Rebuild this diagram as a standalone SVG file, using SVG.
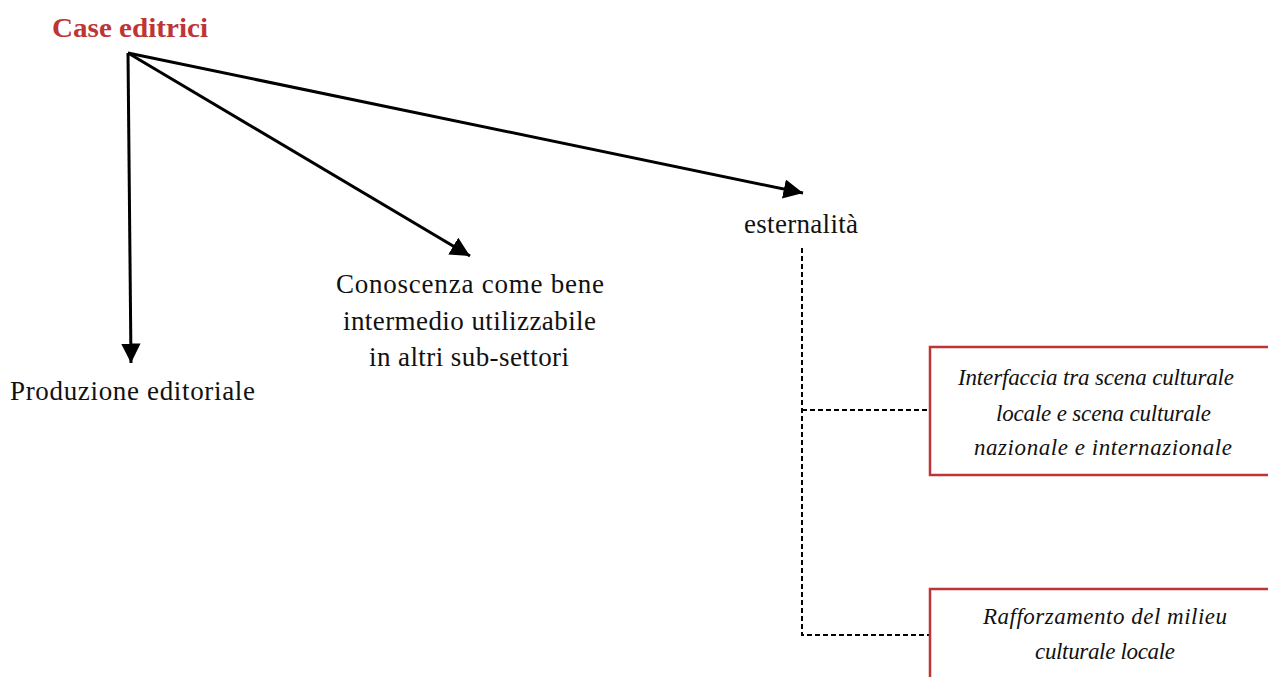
<svg xmlns="http://www.w3.org/2000/svg" width="1268" height="677" viewBox="0 0 1268 677">
  <style>
    text { font-family: "Liberation Serif", "DejaVu Serif", serif; fill: #111; }
    .lbl { font-size: 27px; text-anchor: middle; }
    .title { font-size: 27px; font-weight: bold; fill: #bd3535; }
    .it { font-size: 23px; font-style: italic; text-anchor: middle; }
    .arrow { stroke: #000; stroke-width: 3; fill: none; }
    .dash { stroke: #000; stroke-width: 2; stroke-dasharray: 5 3; fill: none; }
    .box { fill: #fff; stroke: #bd3535; stroke-width: 2.5; }
  </style>
  <defs>
    <marker id="head" viewBox="0 0 10 10" refX="10" refY="5" markerWidth="6.5" markerHeight="6.5" markerUnits="strokeWidth" orient="auto">
      <path d="M0,0 L10,5 L0,10 Z" fill="#000"/>
    </marker>
  </defs>

  <g id="connectors">
    <line class="arrow" x1="128" y1="53" x2="131" y2="363" marker-end="url(#head)"/>
    <line class="arrow" x1="128" y1="53" x2="470" y2="256" marker-end="url(#head)"/>
    <line class="arrow" x1="128" y1="53" x2="803" y2="193" marker-end="url(#head)"/>
    <polyline class="dash" points="802,248 802,635 930,635"/>
    <line class="dash" x1="802" y1="410" x2="930" y2="410"/>
  </g>

  <g id="case-editrici">
    <text class="title" x="52" y="37" textLength="156" lengthAdjust="spacingAndGlyphs">Case editrici</text>
  </g>

  <g id="produzione">
    <text class="lbl" x="132.5" y="400" textLength="245">Produzione editoriale</text>
  </g>

  <g id="conoscenza">
    <text class="lbl" x="470" y="293" textLength="268">Conoscenza come bene</text>
    <text class="lbl" x="469.5" y="330" textLength="253">intermedio utilizzabile</text>
    <text class="lbl" x="469" y="366" textLength="200">in altri sub-settori</text>
  </g>

  <g id="esternalita">
    <text class="lbl" x="801" y="233" textLength="114">esternalità</text>
  </g>

  <g id="interfaccia">
    <rect class="box" x="930" y="347" width="345" height="128"/>
    <text class="it" x="1096" y="385" textLength="276">Interfaccia tra scena culturale</text>
    <text class="it" x="1103.5" y="421" textLength="215">locale e scena culturale</text>
    <text class="it" x="1103" y="455" textLength="258">nazionale e internazionale</text>
  </g>

  <g id="rafforzamento">
    <rect class="box" x="930" y="589" width="345" height="100"/>
    <text class="it" x="1105" y="624" textLength="244">Rafforzamento del milieu</text>
    <text class="it" x="1105" y="659" textLength="140">culturale locale</text>
  </g>
</svg>
